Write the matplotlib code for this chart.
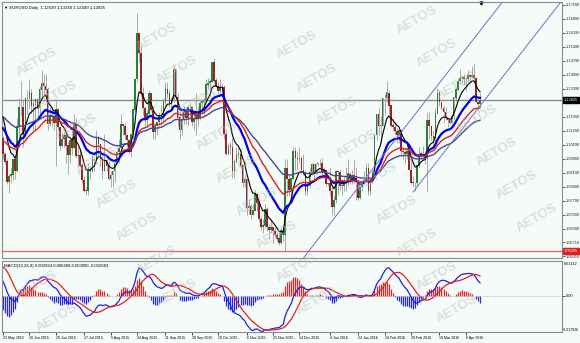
import matplotlib.pyplot as plt
import matplotlib.transforms as mtrans
import numpy as np
import pandas as pd

plt.rcParams['font.family'] = ['Liberation Sans', 'DejaVu Sans']

# EURUSD daily bars, 22 May 2015 - 15 Apr 2016 (one row per week)
first_open = 1.1090
close_px = [
    1.1015,
    1.0975, 1.0875, 1.0900, 1.0910, 1.0985,
    1.0925, 1.1150, 1.1245, 1.1245, 1.1115,
    1.1290, 1.1290, 1.1320, 1.1255, 1.1265,
    1.1285, 1.1240, 1.1335, 1.1365, 1.1350,
    1.1335, 1.1160, 1.1205, 1.1200, 1.1165,
    1.1235, 1.1145, 1.1055, 1.1085, 1.1105,
    1.1055, 1.1005, 1.1080, 1.1040, 1.1160,
    1.1000, 1.1005, 1.0955, 1.0880, 1.0825,
    1.0830, 1.0935, 1.0930, 1.0985, 1.0980,
    1.1090, 1.1060, 1.0990, 1.0930, 1.0980,
    1.0955, 1.0885, 1.0905, 1.0925, 1.0965,
    1.1020, 1.1040, 1.1160, 1.1150, 1.1105,
    1.1080, 1.1020, 1.1110, 1.1235, 1.1385,
    1.1615, 1.1520, 1.1315, 1.1240, 1.1185,
    1.1215, 1.1315, 1.1230, 1.1120, 1.1150,
    1.1170, 1.1205, 1.1200, 1.1275, 1.1340,
    1.1315, 1.1265, 1.1285, 1.1435, 1.1300,
    1.1195, 1.1130, 1.1185, 1.1220, 1.1195,
    1.1245, 1.1245, 1.1175, 1.1195, 1.1210,
    1.1195, 1.1265, 1.1275, 1.1280, 1.1360,
    1.1365, 1.1375, 1.1470, 1.1380, 1.1350,
    1.1325, 1.1345, 1.1345, 1.1110, 1.1015,
    1.1055, 1.1045, 1.0925, 1.0975, 1.1005,
    1.1015, 1.0955, 1.0865, 1.0885, 1.0740,
    1.0750, 1.0705, 1.0730, 1.0815, 1.0770,
    1.0685, 1.0645, 1.0655, 1.0735, 1.0645,
    1.0635, 1.0645, 1.0625, 1.0610, 1.0590,
    1.0565, 1.0630, 1.0610, 1.0940, 1.0885,
    1.0835, 1.0890, 1.1025, 1.0995, 1.0990,
    1.0995, 1.0935, 1.0915, 1.0830, 1.0865,
    1.0920, 1.0960, 1.0915, 1.0960, 1.0965,
    1.0965, 1.0920, 1.0930, 1.0860, 1.0865,
    1.0825, 1.0745, 1.0780, 1.0925, 1.0920,
    1.0855, 1.0855, 1.0875, 1.0865, 1.0915,
    1.0890, 1.0910, 1.0890, 1.0875, 1.0795,
    1.0845, 1.0870, 1.0895, 1.0940, 1.0830,
    1.0890, 1.0920, 1.1105, 1.1210, 1.1155,
    1.1155, 1.1290, 1.1290, 1.1320, 1.1255,
    1.1155, 1.1145, 1.1125, 1.1105, 1.1130,
    1.1025, 1.1020, 1.1015, 1.1025, 1.0935,
    1.0870, 1.0865, 1.0865, 1.0955, 1.1005,
    1.1015, 1.1010, 1.0995, 1.1180, 1.1150,
    1.1100, 1.1095, 1.1215, 1.1315, 1.1270,
    1.1240, 1.1220, 1.1190, 1.1180, 1.1165,
    1.1200, 1.1295, 1.1335, 1.1380, 1.1390,
    1.1395, 1.1385, 1.1385, 1.1405, 1.1400,
    1.1405, 1.1390, 1.1275, 1.1264, 1.12825,
]
high_px = [
    1.1101,
    1.1020, 1.0990, 1.0915, 1.0950, 1.0990,
    1.0985, 1.1195, 1.1290, 1.1380, 1.1285,
    1.1300, 1.1330, 1.1385, 1.1340, 1.1275,
    1.1290, 1.1295, 1.1350, 1.1435, 1.1410,
    1.1410, 1.1345, 1.1245, 1.1240, 1.1230,
    1.1280, 1.1225, 1.1145, 1.1120, 1.1120,
    1.1120, 1.1075, 1.1090, 1.1130, 1.1215,
    1.1195, 1.1050, 1.1035, 1.0970, 1.0900,
    1.0845, 1.0965, 1.0955, 1.1010, 1.0990,
    1.1130, 1.1100, 1.1065, 1.1000, 1.1110,
    1.0985, 1.0980, 1.0930, 1.0935, 1.0990,
    1.1035, 1.1090, 1.1215, 1.1165, 1.1165,
    1.1110, 1.1085, 1.1115, 1.1240, 1.1390,
    1.1715, 1.1610, 1.1560, 1.1345, 1.1255,
    1.1230, 1.1330, 1.1320, 1.1255, 1.1160,
    1.1170, 1.1220, 1.1260, 1.1295, 1.1370,
    1.1375, 1.1330, 1.1300, 1.1460, 1.1440,
    1.1320, 1.1225, 1.1225, 1.1250, 1.1240,
    1.1260, 1.1275, 1.1250, 1.1215, 1.1318,
    1.1245, 1.1280, 1.1285, 1.1295, 1.1385,
    1.1390, 1.1385, 1.1475, 1.1495, 1.1395,
    1.1370, 1.1385, 1.1365, 1.1360, 1.1130,
    1.1065, 1.1075, 1.1095, 1.0990, 1.1045,
    1.1050, 1.1040, 1.0960, 1.0905, 1.0895,
    1.0790, 1.0760, 1.0760, 1.0835, 1.0820,
    1.0765, 1.0700, 1.0690, 1.0760, 1.0745,
    1.0660, 1.0690, 1.0650, 1.0645, 1.0620,
    1.0620, 1.0645, 1.0635, 1.0985, 1.0985,
    1.0905, 1.0895, 1.1045, 1.1045, 1.1030,
    1.1050, 1.1000, 1.1015, 1.0935, 1.0870,
    1.0950, 1.0970, 1.0965, 1.0965, 1.0975,
    1.0985, 1.0995, 1.0945, 1.0935, 1.0870,
    1.0945, 1.0850, 1.0800, 1.0935, 1.0930,
    1.0935, 1.0890, 1.0900, 1.0945, 1.0985,
    1.0920, 1.0935, 1.0990, 1.0950, 1.0875,
    1.0855, 1.0870, 1.0925, 1.0965, 1.0965,
    1.0895, 1.0935, 1.1115, 1.1215, 1.1240,
    1.1200, 1.1295, 1.1310, 1.1376, 1.1335,
    1.1250, 1.1190, 1.1165, 1.1140, 1.1135,
    1.1130, 1.1045, 1.1040, 1.1065, 1.1045,
    1.0990, 1.0900, 1.0875, 1.0960, 1.1045,
    1.1030, 1.1055, 1.1030, 1.1220, 1.1220,
    1.1150, 1.1130, 1.1240, 1.1342, 1.1335,
    1.1275, 1.1255, 1.1245, 1.1195, 1.1195,
    1.1210, 1.1300, 1.1345, 1.1395, 1.1440,
    1.1405, 1.1415, 1.1400, 1.1435, 1.1410,
    1.1455, 1.1465, 1.1390, 1.1290, 1.1316,
]
low_px = [
    1.0990,
    1.0960, 1.0863, 1.0819, 1.0870, 1.0880,
    1.0887, 1.0920, 1.1050, 1.1200, 1.1050,
    1.1090, 1.1210, 1.1240, 1.1215, 1.1135,
    1.1135, 1.1190, 1.1215, 1.1290, 1.1310,
    1.1290, 1.1135, 1.1150, 1.1150, 1.1135,
    1.0955, 1.1130, 1.1035, 1.1045, 1.1045,
    1.0970, 1.0915, 1.0970, 1.1010, 1.1040,
    1.0995, 1.0950, 1.0950, 1.0870, 1.0820,
    1.0810, 1.0810, 1.0890, 1.0920, 1.0925,
    1.0970, 1.1010, 1.0955, 1.0890, 1.0925,
    1.0930, 1.0880, 1.0850, 1.0850, 1.0875,
    1.0960, 1.0965, 1.1040, 1.1105, 1.1085,
    1.1020, 1.1015, 1.0998, 1.1090, 1.1220,
    1.1370, 1.1470, 1.1300, 1.1205, 1.1155,
    1.1155, 1.1200, 1.1225, 1.1085, 1.1090,
    1.1105, 1.1145, 1.1155, 1.1175, 1.1260,
    1.1290, 1.1245, 1.1240, 1.1270, 1.1290,
    1.1155, 1.1085, 1.1105, 1.1160, 1.1160,
    1.1150, 1.1195, 1.1150, 1.1135, 1.1105,
    1.1150, 1.1180, 1.1210, 1.1200, 1.1270,
    1.1340, 1.1330, 1.1370, 1.1365, 1.1345,
    1.1315, 1.1320, 1.1320, 1.1085, 1.1005,
    1.1010, 1.1015, 1.0895, 1.0895, 1.0990,
    1.0985, 1.0940, 1.0850, 1.0845, 1.0705,
    1.0715, 1.0690, 1.0705, 1.0725, 1.0730,
    1.0675, 1.0635, 1.0615, 1.0640, 1.0630,
    1.0590, 1.0615, 1.0565, 1.0595, 1.0575,
    1.0555, 1.0560, 1.0575, 1.0525, 1.0800,
    1.0800, 1.0795, 1.0880, 1.0935, 1.0935,
    1.0970, 1.0935, 1.0905, 1.0805, 1.0805,
    1.0840, 1.0910, 1.0880, 1.0915, 1.0955,
    1.0945, 1.0910, 1.0895, 1.0855, 1.0855,
    1.0800, 1.0710, 1.0710, 1.0770, 1.0805,
    1.0835, 1.0805, 1.0825, 1.0830, 1.0855,
    1.0860, 1.0860, 1.0865, 1.0780, 1.0780,
    1.0790, 1.0830, 1.0860, 1.0895, 1.0810,
    1.0810, 1.0870, 1.0920, 1.1080, 1.1105,
    1.1070, 1.1150, 1.1205, 1.1270, 1.1215,
    1.1145, 1.1125, 1.1105, 1.1065, 1.1070,
    1.1005, 1.0990, 1.0960, 1.0990, 1.0935,
    1.0860, 1.0845, 1.0825, 1.0855, 1.0940,
    1.0985, 1.0990, 1.0960, 1.0822, 1.1090,
    1.1080, 1.1060, 1.1055, 1.1215, 1.1250,
    1.1230, 1.1165, 1.1180, 1.1145, 1.1160,
    1.1170, 1.1180, 1.1280, 1.1325, 1.1365,
    1.1365, 1.1360, 1.1325, 1.1375, 1.1370,
    1.1390, 1.1385, 1.1275, 1.1235, 1.1245,
]

# exponential moving averages on the chart and their value on the first bar
ema_periods = [8, 21, 34, 55]
ema_first = [1.1200, 1.1141, 1.1079, 1.1199]

# MACD(12,26,9): EMA values on the first bar and the MACD of the 8 bars before
macd_fast_first = 1.1150
macd_slow_first = 1.1095
macd_before = [0.0095, 0.0110, 0.0125, 0.0138, 0.0140, 0.0128, 0.0110, 0.0090]

last_price = 1.12825
line_price = 1.05265
price_ticks = [1.17590, 1.16890, 1.16190, 1.15490, 1.14790, 1.14090, 1.13390,
               1.12690, 1.11990, 1.11290, 1.10590, 1.09890, 1.09190, 1.08490,
               1.07790, 1.07090, 1.06390, 1.05710, 1.05010]

# trend channel: lower line anchor, slope per bar, distance to upper line
channel_date = "2016-03-01"
channel_price = 1.0822
channel_slope = 0.001306
channel_width = 0.0376

date_ticks = ["2015-05-22", "2015-06-10", "2015-06-29", "2015-07-17", "2015-08-05",
              "2015-08-24", "2015-09-11", "2015-09-30", "2015-10-19", "2015-11-06",
              "2015-11-25", "2015-12-14", "2016-01-04", "2016-01-22", "2016-02-10",
              "2016-02-29", "2016-03-18", "2016-04-06"]

dates = pd.bdate_range("2015-05-22", periods=len(close_px))
x = np.arange(len(close_px))
close = np.array(close_px)
opn = np.r_[first_open, close[:-1]]  # forex bars open at the previous close
high = np.maximum(np.array(high_px), np.maximum(opn, close))
low = np.minimum(np.array(low_px), np.minimum(opn, close))


def ema(values, period, first):
    out = np.empty(len(values))
    out[0] = first
    k = 2.0 / (period + 1)
    for i in range(1, len(values)):
        out[i] = out[i - 1] + k * (values[i] - out[i - 1])
    return out


macd = ema(close, 12, macd_fast_first) - ema(close, 26, macd_slow_first)
signal = pd.Series(np.r_[macd_before, macd]).rolling(9).mean().to_numpy()[8:]
hist = macd - signal

W, H = 580, 343
bg = "#F5FBF8"
fig = plt.figure(figsize=(W / 100, H / 100), dpi=100, facecolor=bg)
ax = fig.add_axes([2 / W, 1 - 258 / H, 560 / W, 256.3 / H], facecolor=bg)
am = fig.add_axes([2 / W, 1 - 332.3 / H, 560 / W, 71.6 / H], facecolor=bg, sharex=ax)

# candles
up = close >= opn
body = np.maximum(np.abs(close - opn), 0.0002)
ax.vlines(x, low, high, color="#9C9C9C", lw=0.6, zorder=2)
ax.bar(x[up], body[up], bottom=opn[up], width=0.8, color="#2E7D3A", lw=0, zorder=3)
ax.bar(x[~up], body[~up], bottom=close[~up], width=0.8, color="#9B2226", lw=0, zorder=3)

# moving averages
ema_colors = ["#000000", "#0000E6", "#E01E1E", "#4A4890"]
ema_widths = [0.8, 1.6, 1.0, 1.0]
for p, f, c, w in zip(ema_periods, ema_first, ema_colors, ema_widths):
    ax.plot(x, ema(close, p, f), color=c, lw=w, zorder=4)

# horizontal levels
ax.axhline(last_price, color="#8A8A8A", lw=1.0, zorder=1)
ax.axhline(line_price, color="#E06666", lw=0.9, zorder=1)

# channel
i0 = dates.get_loc(pd.Timestamp(channel_date))
xs = np.array([i0, 280])
ax.plot(xs, channel_price + channel_slope * (xs - i0), color="#6F6FC8", lw=0.7, zorder=4)
xs2 = np.array([120, 280])
ax.plot(xs2, channel_price + channel_width + channel_slope * (xs2 - i0), color="#6F6FC8", lw=0.7, zorder=4)

px_per_bar = 2.03
ax.set_xlim((2 - 3) / px_per_bar, (562 - 3) / px_per_bar)
ax.set_ylim(1.17590 - (258 - 4.7) * 0.0005, 1.17590 + 3.0 * 0.0005)

ax.yaxis.tick_right()
ax.set_yticks(price_ticks)
ax.set_yticklabels([f"{v:.5f}" for v in price_ticks])
ax.tick_params(axis="y", labelsize=2.8, length=2, width=0.5, pad=1, colors="#222222")
ax.tick_params(axis="x", labelbottom=False, length=0)

tr = mtrans.blended_transform_factory(ax.transAxes, ax.transData)
ax.text(1.003, last_price, "1.12825", transform=tr, fontsize=2.8, color="white", va="center", ha="left",
        bbox=dict(boxstyle="square,pad=0.25", fc="black", ec="black"), zorder=6, clip_on=False)
ax.text(1.003, line_price, "1.05265", transform=tr, fontsize=2.8, color="white", va="center", ha="left",
        bbox=dict(boxstyle="square,pad=0.25", fc="#E02020", ec="#E02020"), zorder=6, clip_on=False)

ax.text(0.004, 0.985, "\u25BC EURUSD,Daily  1.12639 1.13160 1.12449 1.12825", transform=ax.transAxes,
        fontsize=3.1, va="top", ha="left", color="black")
ax.plot([(481 - 2) / 560], [0.995], marker="v", ms=2.2, color="black", transform=ax.transAxes, clip_on=False)

# MACD panel
am.vlines(x, 0, hist, colors=np.where(hist >= 0, "#E02828", "#2828E0"), lw=0.9)
am.plot(x, macd, color="#1E1EE6", lw=0.9)
am.plot(x, signal, color="#E61E1E", lw=0.9)
am.axhline(0, color="#A8A8A8", lw=0.5, ls=(0, (1, 1)))
am.set_ylim(-0.0140, 0.0134)
am.yaxis.tick_right()
am.set_yticks([0])
am.set_yticklabels(["0.00"])
am.tick_params(axis="y", labelsize=2.8, length=2, width=0.5, pad=1)
am.text(1.003, 0.96, "0.01312", transform=am.transAxes, fontsize=2.7, va="center", ha="left")
am.text(1.002, 0.03, "-0.017826", transform=am.transAxes, fontsize=2.5, va="center", ha="left")
am.text(0.004, 0.95, "MACD(12,26,9) 0.003924 0.006608 0.000000 -0.002683", transform=am.transAxes,
        fontsize=3.1, va="top", ha="left")

tick_idx = [dates.get_loc(pd.Timestamp(d)) for d in date_ticks]
am.set_xticks(tick_idx)
am.set_xticklabels([pd.Timestamp(d).strftime("%-d %b %Y") for d in date_ticks], ha="left")
am.tick_params(axis="x", labelsize=2.6, length=2, width=0.5, pad=1)

for a in (ax, am):
    for s in a.spines.values():
        s.set_color("#8C8C8C")
        s.set_linewidth(0.8)

# AETOS watermark, kept fully inside the picture
for i in range(-8, 9):
    for j in range(-6, 14):
        px = 417 + j * 20 + i * 100
        py = 20 + j * 33 - i * 58
        if 26 < px < 552 and 16 < py < 326:
            fig.text(px / W, 1 - py / H, "AETOS", rotation=30, ha="center", va="center",
                     fontsize=9.5, fontweight="bold", color="#B5BBB8", alpha=0.45, zorder=10)

fig.savefig("out.png", dpi=100, facecolor=bg)
